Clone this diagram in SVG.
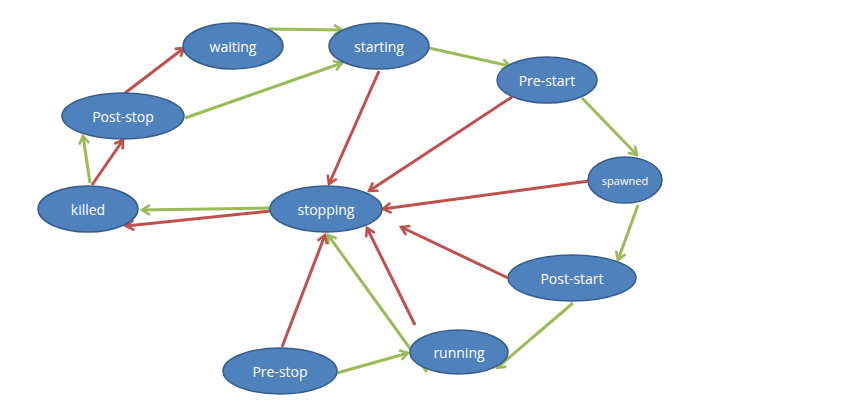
<svg xmlns="http://www.w3.org/2000/svg" width="859" height="411" viewBox="0 0 859 411">
<style>
.node ellipse{fill:#4f81bd;stroke:#385d8a;stroke-width:1.5}
.node text{fill:#fff;font-family:"Open Sans","Liberation Sans",sans-serif;font-size:14px;text-anchor:middle;dominant-baseline:central}
.g{stroke:#9bbb59;stroke-width:3;fill:none;marker-end:url(#ag)}
.r{stroke:#c0504d;stroke-width:3;fill:none;marker-end:url(#ar)}
</style>
<defs>
<marker id="ag" viewBox="0 0 12 12" refX="10" refY="6" markerWidth="12" markerHeight="12" markerUnits="userSpaceOnUse" orient="auto">
<path d="M2,1 L10,6 L2,11" fill="none" stroke="#9bbb59" stroke-width="2.6"/>
</marker>
<marker id="ar" viewBox="0 0 12 12" refX="10" refY="6" markerWidth="12" markerHeight="12" markerUnits="userSpaceOnUse" orient="auto">
<path d="M2,1 L10,6 L2,11" fill="none" stroke="#c0504d" stroke-width="2.6"/>
</marker>
</defs>
<rect width="859" height="411" fill="#fff"/>
<g id="connectors">
<line class="g" x1="268" y1="29" x2="342" y2="30"/>
<line class="g" x1="185" y1="118" x2="342" y2="63"/>
<line class="g" x1="429" y1="48" x2="510" y2="66"/>
<line class="g" x1="582" y1="98" x2="637" y2="155"/>
<line class="g" x1="638" y1="205" x2="618" y2="260"/>
<line class="g" x1="573" y1="303" x2="497" y2="368"/>
<line class="g" x1="337" y1="373" x2="408" y2="353"/>
<line class="g" x1="427" y1="372" x2="328" y2="235"/>
<line class="g" x1="271" y1="208" x2="142" y2="210"/>
<line class="g" x1="90" y1="183" x2="83" y2="136"/>
<line class="r" x1="125" y1="93" x2="184" y2="48"/>
<line class="r" x1="92" y1="185" x2="123" y2="140"/>
<line class="r" x1="271" y1="211" x2="126" y2="226"/>
<line class="r" x1="379" y1="71" x2="329" y2="184"/>
<line class="r" x1="512" y1="97" x2="369" y2="191"/>
<line class="r" x1="589" y1="181" x2="383" y2="209"/>
<line class="r" x1="508" y1="278" x2="401" y2="227"/>
<line class="r" x1="415" y1="325" x2="367" y2="228"/>
<line class="r" x1="282" y1="347" x2="325" y2="235"/>
</g>
<g id="waiting" class="node"><ellipse cx="233" cy="46" rx="50" ry="23"/><text x="233" y="46">waiting</text></g>
<g id="starting" class="node"><ellipse cx="379" cy="46" rx="50" ry="23"/><text x="379" y="46">starting</text></g>
<g id="post-stop" class="node"><ellipse cx="123" cy="116" rx="61" ry="23"/><text x="123" y="116">Post-stop</text></g>
<g id="killed" class="node"><ellipse cx="88" cy="209" rx="50" ry="23"/><text x="88" y="209">killed</text></g>
<g id="stopping" class="node"><ellipse cx="326" cy="209" rx="56" ry="23"/><text x="326" y="209">stopping</text></g>
<g id="pre-start" class="node"><ellipse cx="547" cy="80" rx="50" ry="23"/><text x="547" y="80">Pre-start</text></g>
<g id="spawned" class="node"><ellipse cx="625" cy="180" rx="37" ry="23"/><text x="625" y="180" style="font-size:11px">spawned</text></g>
<g id="post-start" class="node"><ellipse cx="572" cy="278" rx="64" ry="23"/><text x="572" y="278">Post-start</text></g>
<g id="running" class="node"><ellipse cx="459" cy="352" rx="49" ry="22"/><text x="459" y="352">running</text></g>
<g id="pre-stop" class="node"><ellipse cx="280" cy="371" rx="57" ry="23"/><text x="280" y="371">Pre-stop</text></g>
</svg>
